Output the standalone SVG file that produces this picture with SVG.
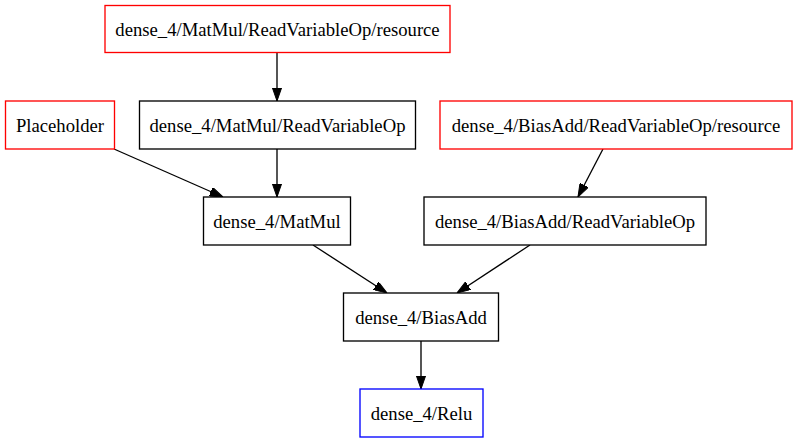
<svg xmlns="http://www.w3.org/2000/svg" width="797" height="443" viewBox="0 0 797 443">
<style>
.n rect{fill:#fff;stroke:#000;stroke-width:1.33}
.n.red rect{stroke:#ff0000}
.n.blue rect{stroke:#0000ff}
.n text{font-family:"Liberation Serif","Times New Roman",serif;font-size:18.67px;text-anchor:middle;fill:#000}
.e path{fill:none;stroke:#000;stroke-width:1.33;marker-end:url(#ah)}
</style>
<defs>
<marker id="ah" viewBox="0 0 13.33 9.33" refX="13.33" refY="4.67" markerWidth="13.33" markerHeight="9.33" markerUnits="userSpaceOnUse" orient="auto">
<path d="M0,0 L13.33,4.67 L0,9.33 z" fill="#000" stroke="#000" stroke-width="1"/>
</marker>
</defs>
<rect width="797" height="443" fill="#fff"/>
<g id="edges" class="e">
<path d="M277,53 L277,101"/>
<path d="M114,149 L223,197"/>
<path d="M277,149 L277,197"/>
<path d="M603,149 L578,197"/>
<path d="M313,245 L387,293"/>
<path d="M530,245 L457,293"/>
<path d="M421,341 L421,389"/>
</g>
<g id="mm_res" class="n red"><rect x="105" y="5.5" width="345" height="47"/><text x="277.5" y="35.5">dense_4/MatMul/ReadVariableOp/resource</text></g>
<g id="placeholder" class="n red"><rect x="5.5" y="101" width="109" height="48"/><text x="60" y="131.5">Placeholder</text></g>
<g id="mm_rvo" class="n"><rect x="139.5" y="101" width="276" height="48"/><text x="277.5" y="131.5">dense_4/MatMul/ReadVariableOp</text></g>
<g id="ba_res" class="n red"><rect x="440" y="101" width="352" height="48"/><text x="616" y="131.5">dense_4/BiasAdd/ReadVariableOp/resource</text></g>
<g id="matmul" class="n"><rect x="203.5" y="197" width="147" height="48"/><text x="277" y="227.5">dense_4/MatMul</text></g>
<g id="ba_rvo" class="n"><rect x="424" y="197" width="282" height="48"/><text x="565" y="227.5">dense_4/BiasAdd/ReadVariableOp</text></g>
<g id="biasadd" class="n"><rect x="343.5" y="293" width="155" height="48"/><text x="421" y="323.5">dense_4/BiasAdd</text></g>
<g id="relu" class="n blue"><rect x="360" y="389" width="123" height="48"/><text x="421.5" y="419.5">dense_4/Relu</text></g>
</svg>
